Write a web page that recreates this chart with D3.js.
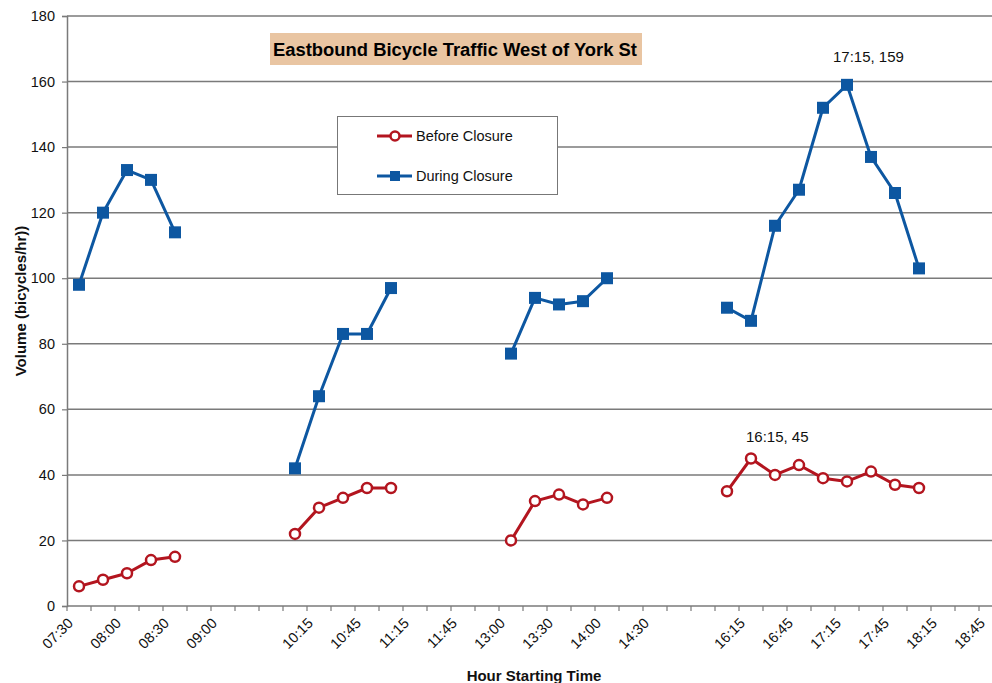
<!DOCTYPE html>
<html>
<head>
<meta charset="utf-8">
<script src="https://cdn.jsdelivr.net/npm/d3@7"></script>
<style>
  body { margin: 0; background: #fff; }
  svg { display: block; font-family: "Liberation Sans", Arial, Helvetica, sans-serif; }
</style>
</head>
<body>
<svg id="chart" width="992" height="683"></svg>
<script>
// 15-minute start times; blanks are the gaps between survey periods
const categories = [
  '07:30', '07:45', '08:00', '08:15', '08:30', '08:45', '09:00', '09:15', '',
  '10:00', '10:15', '10:30', '10:45', '11:00', '11:15', '11:30', '11:45', '12:45',
  '13:00', '13:15', '13:30', '13:45', '14:00', '14:15', '14:30', '14:45', '',
  '16:00', '16:15', '16:30', '16:45', '17:00', '17:15', '17:30', '17:45', '18:00',
  '18:15', '18:30', '18:45'
];

const beforeClosure = [
  6, 8, 10, 14, 15, null, null, null, null,
  22, 30, 33, 36, 36, null, null, null, null,
  20, 32, 34, 31, 33, null, null, null, null,
  35, 45, 40, 43, 39, 38, 41, 37, 36,
  null, null, null
];

const duringClosure = [
  98, 120, 133, 130, 114, null, null, null, null,
  42, 64, 83, 83, 97, null, null, null, null,
  77, 94, 92, 93, 100, null, null, null, null,
  91, 87, 116, 127, 152, 159, 137, 126, 103,
  null, null, null
];

const yTicks = [0, 20, 40, 60, 80, 100, 120, 140, 160, 180];

const title = 'Eastbound Bicycle Traffic West of York St';
const xTitle = 'Hour Starting Time';
const yTitle = 'Volume (bicycles/hr))';

const series = [
  { name: 'Before Closure', values: beforeClosure, color: '#b3151f', marker: 'circle', labelDx: -5, labelDy: -17 },
  { name: 'During Closure', values: duringClosure, color: '#0d57a1', marker: 'square', labelDx: -14, labelDy: -23 }
];

const plotLeft = 67, plotTop = 16, plotBottom = 606;
const step = 24;
const svg = d3.select('#chart');

const x = d3.scaleBand()
  .domain(d3.range(categories.length))
  .range([plotLeft, plotLeft + step * categories.length])
  .paddingInner(0).paddingOuter(0);

const y = d3.scaleLinear().domain([0, 180]).range([plotBottom, plotTop]);

// gridlines
svg.append('g')
  .selectAll('line')
  .data(yTicks.filter(d => d > 0))
  .enter()
  .append('line')
  .attr('x1', plotLeft).attr('x2', x.range()[1])
  .attr('y1', d => y(d)).attr('y2', d => y(d))
  .attr('stroke', '#7a7a7a')
  .attr('stroke-width', 1.5);

// y axis
const yAxis = svg.append('g')
  .attr('transform', `translate(${plotLeft},0)`)
  .call(d3.axisLeft(y).tickValues(yTicks).tickSize(5).tickPadding(7));
yAxis.select('.domain').attr('stroke', '#7a7a7a').attr('stroke-width', 1.5);
yAxis.selectAll('.tick line').attr('stroke', '#7a7a7a').attr('stroke-width', 1.2);
yAxis.selectAll('.tick text')
  .attr('font-size', '14.5px')
  .attr('fill', '#111')
  .attr('font-family', '"Liberation Sans", Arial, sans-serif');

// x axis line and boundary ticks
svg.append('line')
  .attr('x1', plotLeft).attr('x2', x.range()[1])
  .attr('y1', plotBottom).attr('y2', plotBottom)
  .attr('stroke', '#7a7a7a').attr('stroke-width', 1.5);

svg.append('g')
  .selectAll('line')
  .data(d3.range(categories.length + 1))
  .enter()
  .append('line')
  .attr('x1', i => i < categories.length ? x(i) : x.range()[1])
  .attr('x2', i => i < categories.length ? x(i) : x.range()[1])
  .attr('y1', plotBottom).attr('y2', plotBottom + 5)
  .attr('stroke', '#7a7a7a').attr('stroke-width', 1.2);

// x tick labels, every second category
svg.append('g')
  .selectAll('text')
  .data(d3.range(categories.length).filter(i => i % 2 === 0 && categories[i] !== ''))
  .enter()
  .append('text')
  .attr('transform', i => `translate(${x(i) + x.bandwidth() / 2 - 5},${plotBottom + 18}) rotate(-45)`)
  .attr('text-anchor', 'end')
  .attr('font-size', '14.5px')
  .attr('fill', '#111')
  .text(i => categories[i]);

// series lines and markers
const line = d3.line()
  .defined(d => d.v !== null)
  .x(d => x(d.i) + x.bandwidth() / 2)
  .y(d => y(d.v));

series.forEach(s => {
  const pts = s.values.map((v, i) => ({ i, v }));
  svg.append('path')
    .datum(pts)
    .attr('d', line)
    .attr('fill', 'none')
    .attr('stroke', s.color)
    .attr('stroke-width', 3)
    .attr('stroke-linejoin', 'round');

  const valid = pts.filter(d => d.v !== null);
  if (s.marker === 'circle') {
    svg.append('g').selectAll('circle')
      .data(valid).enter()
      .append('circle')
      .attr('cx', d => x(d.i) + x.bandwidth() / 2)
      .attr('cy', d => y(d.v))
      .attr('r', 5)
      .attr('fill', '#fff')
      .attr('stroke', s.color)
      .attr('stroke-width', 2.5);
  } else {
    svg.append('g').selectAll('rect')
      .data(valid).enter()
      .append('rect')
      .attr('x', d => x(d.i) + x.bandwidth() / 2 - 6)
      .attr('y', d => y(d.v) - 6)
      .attr('width', 12).attr('height', 12)
      .attr('fill', s.color);
  }

  // label the peak of each series
  const peak = valid.reduce((a, b) => (b.v > a.v ? b : a));
  svg.append('text')
    .attr('x', x(peak.i) + x.bandwidth() / 2 + s.labelDx)
    .attr('y', y(peak.v) + s.labelDy)
    .attr('font-size', '15px')
    .attr('fill', '#111')
    .text(`${categories[peak.i]}, ${peak.v}`);
});

// title box
svg.append('rect')
  .attr('x', 270).attr('y', 33)
  .attr('width', 372).attr('height', 32)
  .attr('fill', '#e9c5a2');
svg.append('text')
  .attr('x', 273).attr('y', 56)
  .attr('font-size', '18px')
  .attr('font-weight', 'bold')
  .attr('fill', '#000')
  .attr('textLength', 364)
  .attr('lengthAdjust', 'spacingAndGlyphs')
  .text(title);

// legend
const legend = svg.append('g');
legend.append('rect')
  .attr('x', 337.5).attr('y', 116.5)
  .attr('width', 220).attr('height', 78)
  .attr('fill', '#fff')
  .attr('stroke', '#777')
  .attr('stroke-width', 1);

series.forEach((s, k) => {
  const ly = 136 + k * 40;
  legend.append('line')
    .attr('x1', 377).attr('x2', 412)
    .attr('y1', ly).attr('y2', ly)
    .attr('stroke', s.color).attr('stroke-width', 3);
  if (s.marker === 'circle') {
    legend.append('circle')
      .attr('cx', 395).attr('cy', ly).attr('r', 4.5)
      .attr('fill', '#fff').attr('stroke', s.color).attr('stroke-width', 2.5);
  } else {
    legend.append('rect')
      .attr('x', 390).attr('y', ly - 5).attr('width', 10).attr('height', 10)
      .attr('fill', s.color);
  }
  legend.append('text')
    .attr('x', 416).attr('y', ly + 5)
    .attr('font-size', '14.5px')
    .attr('fill', '#111')
    .text(s.name);
});

// axis titles
svg.append('text')
  .attr('x', 534).attr('y', 681)
  .attr('text-anchor', 'middle')
  .attr('font-size', '15px')
  .attr('font-weight', 'bold')
  .attr('fill', '#111')
  .text(xTitle);

svg.append('text')
  .attr('transform', 'translate(26,301) rotate(-90)')
  .attr('text-anchor', 'middle')
  .attr('font-size', '15px')
  .attr('font-weight', 'bold')
  .attr('fill', '#111')
  .text(yTitle);
</script>
</body>
</html>
